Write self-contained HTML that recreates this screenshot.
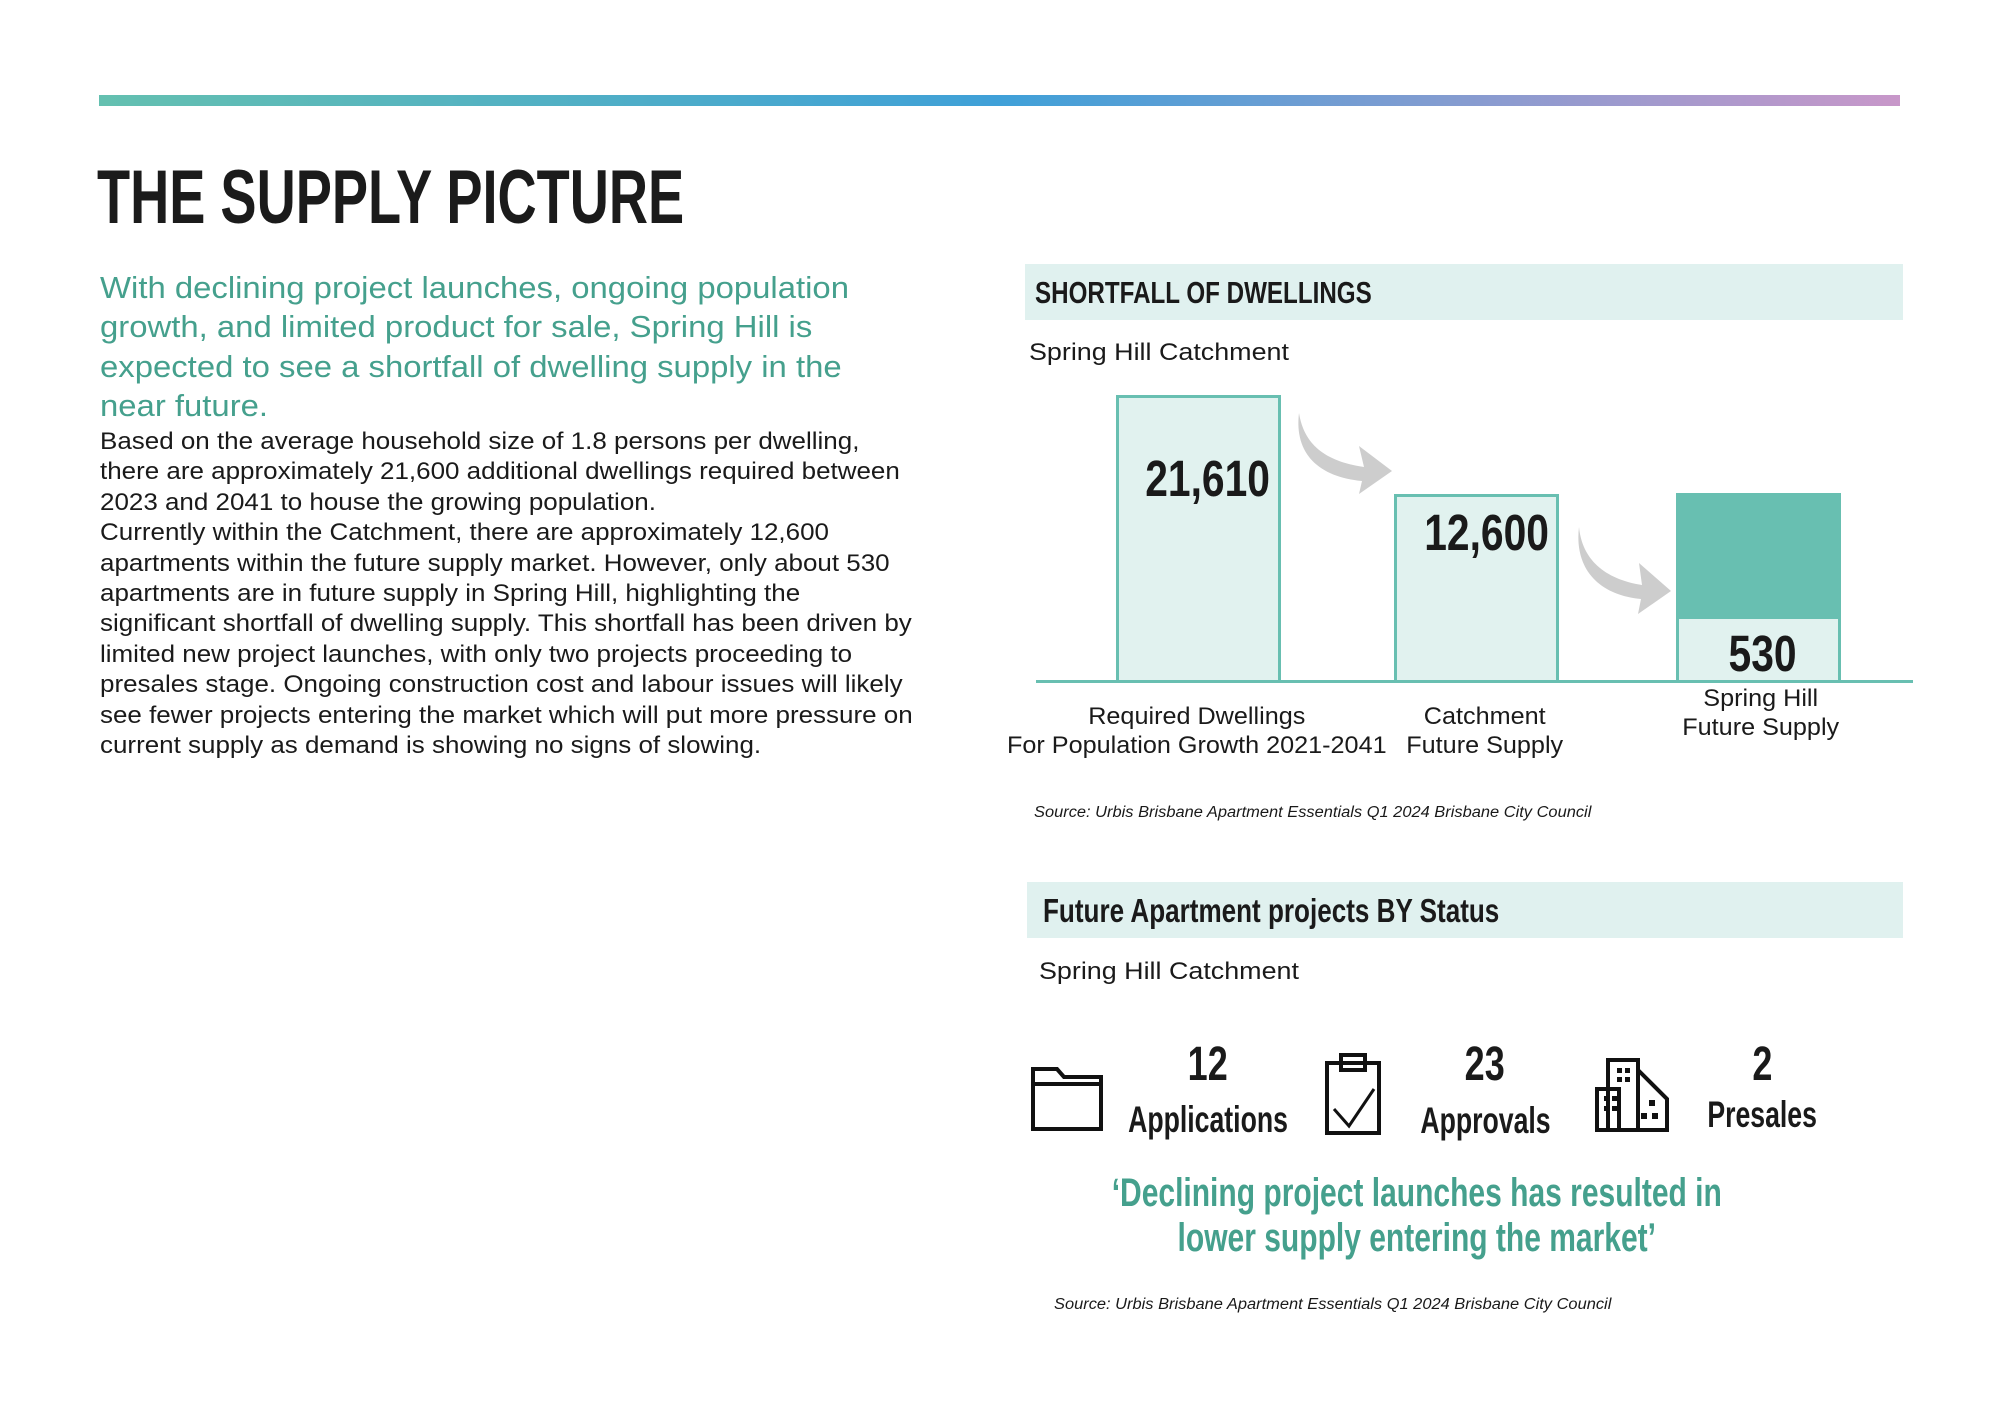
<!DOCTYPE html>
<html><head><meta charset="utf-8"><style>
*{margin:0;padding:0;box-sizing:border-box}
body{width:2000px;height:1414px;background:#fff;position:relative;overflow:hidden;font-family:"Liberation Sans",sans-serif;color:#1a1a1a}
.a{position:absolute;white-space:nowrap}
.c{display:inline-block;transform-origin:left center}
.cc{transform-origin:center center}
.hb{position:absolute;background:#e0f1ef}
.bar{position:absolute;border:3px solid #68bfb1;background:#e1f2ef}
.num{font-weight:bold;color:#1a1a1a}
#rp{position:absolute;left:0;top:0;width:2000px;height:1414px;transform:translate(-6px,-1px)}
</style></head><body>
<div class="a" style="left:99px;top:95px;width:1801px;height:11px;background:linear-gradient(90deg,#64c0b0,#3fa0d8 50%,#c897c9)"></div>
<div class="a" style="left:97px;top:158px;font-size:76px;font-weight:bold;line-height:80px;color:#1b1b1b"><span class="c" style="transform:scaleX(0.713)">THE SUPPLY PICTURE</span></div>

<div class="a" style="left:100px;top:268px;font-size:31px;line-height:39.3px;color:#45a08d">
<span class="c" style="transform:scaleX(1.06)">With declining project launches, ongoing population<br>growth, and limited product for sale, Spring Hill is<br>expected to see a shortfall of dwelling supply in the<br>near future.</span></div>

<div class="a" style="left:100px;top:427px;font-size:24.5px;line-height:30.4px;color:#1a1a1a">
<span class="c" style="transform:scaleX(1.06)">Based on the average household size of 1.8 persons per dwelling,<br>there are approximately 21,600 additional dwellings required between<br>2023 and 2041 to house the growing population.<br>Currently within the Catchment, there are approximately 12,600<br>apartments within the future supply market. However, only about 530<br>apartments are in future supply in Spring Hill, highlighting the<br>significant shortfall of dwelling supply. This shortfall has been driven by<br>limited new project launches, with only two projects proceeding to<br>presales stage. Ongoing construction cost and labour issues will likely<br>see fewer projects entering the market which will put more pressure on<br>current supply as demand is showing no signs of slowing.</span></div>

<div id="rp">
<!-- Shortfall -->
<div class="hb" style="left:1031px;top:265px;width:878px;height:56px"></div>
<div class="a" style="left:1041px;top:276px;font-size:31px;font-weight:bold;line-height:36px"><span class="c" style="transform:scaleX(0.78)">SHORTFALL OF DWELLINGS</span></div>
<div class="a" style="left:1035px;top:340px;font-size:24px;line-height:28px"><span class="c" style="transform:scaleX(1.12)">Spring Hill Catchment</span></div>

<div class="bar" style="left:1122px;top:396px;width:165px;height:288px"></div>
<div class="bar" style="left:1400px;top:495px;width:165px;height:189px"></div>
<div class="bar" style="left:1682px;top:494px;width:165px;height:190px"></div>
<div class="a" style="left:1682px;top:494px;width:165px;height:126px;background:#68bfb1"></div>
<div class="a" style="left:1042px;top:681px;width:877px;height:3px;background:#68bfb1"></div>

<div class="a num" style="left:1076px;top:452px;width:200px;text-align:right;font-size:51px;line-height:56px"><span class="c" style="transform:scaleX(0.8);transform-origin:right center">21,610</span></div>
<div class="a num" style="left:1355px;top:506px;width:200px;text-align:right;font-size:51px;line-height:56px"><span class="c" style="transform:scaleX(0.8);transform-origin:right center">12,600</span></div>
<div class="a num" style="left:1669px;top:627px;width:200px;text-align:center;font-size:51px;line-height:56px"><span class="c cc" style="transform:scaleX(0.8)">530</span></div>

<svg class="a" style="left:0;top:0" width="2000" height="1414">
<path d="M1305 414 C1310 445 1330 462 1370 468 L1365 447 L1398 472 L1365 495 L1368 482 C1325 478 1300 455 1305 414 Z" fill="#cdcdcd"/>
<path d="M1585 528 C1588 560 1610 580 1648 586 L1645 564 L1677 592 L1644 615 L1647 600 C1605 596 1580 570 1585 528 Z" fill="#cdcdcd"/>
</svg>

<div class="a" style="left:953px;top:703px;width:500px;text-align:center;font-size:24px;line-height:29px"><span class="c cc" style="transform:scaleX(1.05)">Required Dwellings<br>For Population Growth 2021-2041</span></div>
<div class="a" style="left:1241px;top:703px;width:500px;text-align:center;font-size:24px;line-height:29px"><span class="c cc" style="transform:scaleX(1.05)">Catchment<br>Future Supply</span></div>
<div class="a" style="left:1517px;top:685px;width:500px;text-align:center;font-size:24px;line-height:29px"><span class="c cc" style="transform:scaleX(1.05)">Spring Hill<br>Future Supply</span></div>
<div class="a" style="left:1040px;top:805px;font-size:15.5px;font-style:italic;line-height:18px"><span class="c" style="transform:scaleX(1.06)">Source: Urbis Brisbane Apartment Essentials Q1 2024 Brisbane City Council</span></div>

<!-- Future apartment -->
<div class="hb" style="left:1033px;top:883px;width:876px;height:56px"></div>
<div class="a" style="left:1049px;top:893px;font-size:33px;font-weight:bold;line-height:38px"><span class="c" style="transform:scaleX(0.79)">Future Apartment projects BY Status</span></div>
<div class="a" style="left:1045px;top:959px;font-size:24px;line-height:28px"><span class="c" style="transform:scaleX(1.12)">Spring Hill Catchment</span></div>

<svg class="a" style="left:0;top:0" width="2000" height="1414" fill="none" stroke="#111" stroke-width="4">
<path d="M1039 1130 V1070 H1063 L1070 1078 H1107 V1130 Z M1039 1085 H1107"/>
<rect x="1333" y="1064" width="52" height="70"/>
<rect x="1347" y="1056" width="24" height="15"/>
<path d="M1340 1110 L1355 1127 L1380 1090" stroke-width="3"/>
<rect x="1614" y="1061" width="30" height="70"/>
<rect x="1603" y="1090" width="22" height="41"/>
<path d="M1644 1071 L1673 1100 V1131 H1644"/>
</svg>
<svg class="a" style="left:0;top:0" width="2000" height="1414" fill="#111">
<rect x="1623" y="1069" width="5" height="5"/><rect x="1631" y="1069" width="5" height="5"/>
<rect x="1623" y="1078" width="5" height="5"/><rect x="1631" y="1078" width="5" height="5"/>
<rect x="1610" y="1097" width="5" height="5"/><rect x="1618" y="1097" width="5" height="5"/>
<rect x="1610" y="1107" width="5" height="5"/><rect x="1618" y="1107" width="5" height="5"/>
<rect x="1655" y="1101" width="6" height="6"/><rect x="1647" y="1114" width="6" height="6"/><rect x="1658" y="1114" width="6" height="6"/>
</svg>

<div class="a num" style="left:1064px;top:1039px;width:300px;text-align:center;font-size:48px;line-height:54px"><span class="c cc" style="transform:scaleX(0.75)">12</span></div>
<div class="a num" style="left:1064px;top:1100px;width:300px;text-align:center;font-size:37px;line-height:42px"><span class="c cc" style="transform:scaleX(0.72)">Applications</span></div>
<div class="a num" style="left:1341px;top:1039px;width:300px;text-align:center;font-size:48px;line-height:54px"><span class="c cc" style="transform:scaleX(0.75)">23</span></div>
<div class="a num" style="left:1341px;top:1101px;width:300px;text-align:center;font-size:37px;line-height:42px"><span class="c cc" style="transform:scaleX(0.72)">Approvals</span></div>
<div class="a num" style="left:1618px;top:1039px;width:300px;text-align:center;font-size:48px;line-height:54px"><span class="c cc" style="transform:scaleX(0.75)">2</span></div>
<div class="a num" style="left:1618px;top:1095px;width:300px;text-align:center;font-size:37px;line-height:42px"><span class="c cc" style="transform:scaleX(0.72)">Presales</span></div>

<div class="a" style="left:973px;top:1172px;width:900px;text-align:center;font-size:40px;font-weight:bold;line-height:45px;color:#45a08d"><span class="c cc" style="transform:scaleX(0.75)">‘Declining project launches has resulted in<br>lower supply entering the market’</span></div>
<div class="a" style="left:1060px;top:1297px;font-size:15.5px;font-style:italic;line-height:18px"><span class="c" style="transform:scaleX(1.06)">Source: Urbis Brisbane Apartment Essentials Q1 2024 Brisbane City Council</span></div>
</div>
</body></html>
